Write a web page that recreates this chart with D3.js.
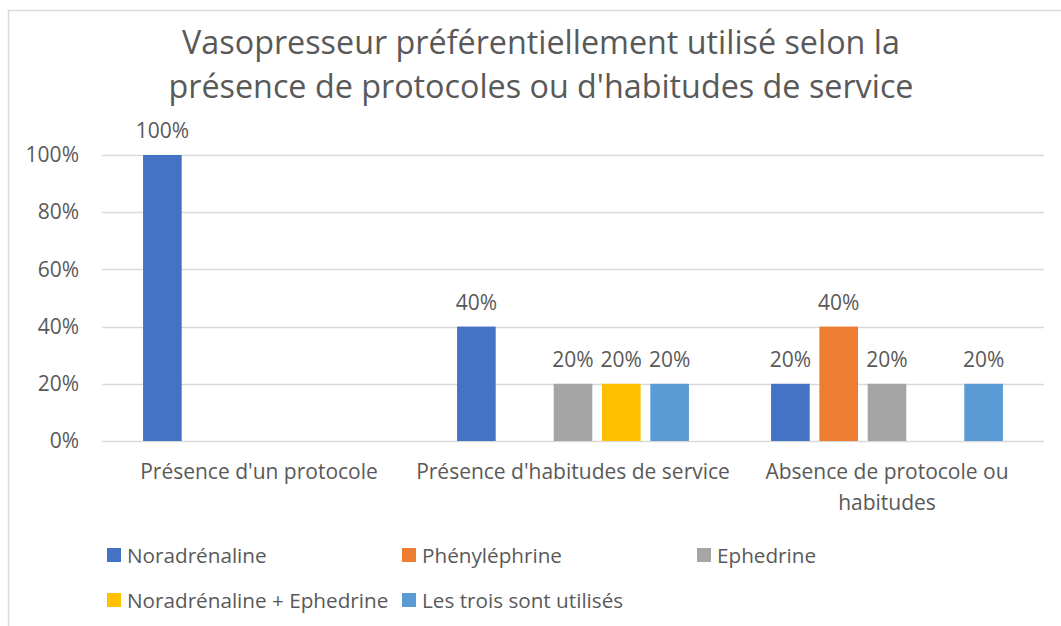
<!DOCTYPE html>
<html>
<head>
<meta charset="utf-8">
<script src="https://cdn.jsdelivr.net/npm/d3@7"></script>
<style>
  body { margin: 0; background: #fff; }
  text { font-family: "Open Sans", "Noto Sans", sans-serif; fill: #595959; }
</style>
</head>
<body>
<svg id="chart"></svg>
<script>
const categories = [["Présence d'un protocole"], ["Présence d'habitudes de service"], ["Absence de protocole ou", "habitudes"]];
const seriesNames = ["Noradrénaline", "Phényléphrine", "Ephedrine", "Noradrénaline + Ephedrine", "Les trois sont utilisés"];
const noradrenaline = [1.0, 0.4, 0.2];
const phenylephrine = [0, 0, 0.4];
const ephedrine = [0, 0.2, 0.2];
const noraEphedrine = [0, 0.2, 0];
const lesTrois = [0, 0.2, 0.2];
const yTicks = [0, 0.2, 0.4, 0.6, 0.8, 1.0];
const colors = ["#4472C4", "#ED7D31", "#A5A5A5", "#FFC000", "#5B9BD5"];

let values = [noradrenaline, phenylephrine, ephedrine, noraEphedrine, lesTrois];

let svgWidth = 1061, svgHeight = 626;
let margin = {top: 155, right: 17, bottom: 185, left: 102};
let chartWidth = svgWidth - margin.left - margin.right;
let chartHeight = svgHeight - margin.top - margin.bottom;

let svg = d3.select("#chart")
    .attr("width", svgWidth)
    .attr("height", svgHeight);

// chart border
svg.append("rect")
    .attr("x", 8.5).attr("y", 10.5)
    .attr("width", 1200).attr("height", 800)
    .attr("fill", "none")
    .attr("stroke", "#D9D9D9")
    .attr("stroke-width", 1.5);

// title
let title = svg.append("text")
    .attr("text-anchor", "middle")
    .style("font-size", "32.3px");
title.append("tspan").attr("x", 541).attr("y", 54).text("Vasopresseur préférentiellement utilisé selon la");
title.append("tspan").attr("x", 541).attr("y", 98).text("présence de protocoles ou d'habitudes de service");

let g = svg.append("g")
    .attr("transform", "translate(" + margin.left + "," + margin.top + ")");

let x0 = d3.scaleBand().domain(d3.range(categories.length)).range([0, chartWidth]);
let x1 = d3.scaleBand().domain(d3.range(seriesNames.length)).range([0, x0.bandwidth()])
    .paddingInner(0.2).paddingOuter(0.85);
let yScale = d3.scaleLinear().domain([0, 1]).range([chartHeight, 0]);

// gridlines
g.selectAll(".grid")
    .data(yTicks)
    .enter().append("line")
    .attr("x1", 0).attr("x2", chartWidth)
    .attr("y1", d => Math.round(yScale(d)) + 0.5)
    .attr("y2", d => Math.round(yScale(d)) + 0.5)
    .attr("stroke", "#D9D9D9")
    .attr("stroke-width", 1.3);

// y axis labels
let yAxis = g.append("g")
    .call(d3.axisLeft(yScale).tickValues(yTicks).tickFormat(d3.format(".0%")).tickSize(0).tickPadding(23));
yAxis.select(".domain").remove();
yAxis.selectAll("text")
    .style("font-size", "21px")
    .style("font-family", "\"Open Sans\", sans-serif")
    .attr("fill", "#595959");

// bars
let groups = g.selectAll(".cat")
    .data(categories.map((c, i) => i))
    .enter().append("g")
    .attr("transform", i => "translate(" + x0(i) + ",0)");

groups.selectAll("rect")
    .data(i => values.map((s, k) => ({k: k, v: s[i]})))
    .enter().append("rect")
    .attr("x", d => x1(d.k))
    .attr("width", x1.bandwidth())
    .attr("y", d => yScale(d.v))
    .attr("height", d => chartHeight - yScale(d.v))
    .attr("fill", d => colors[d.k]);

groups.selectAll(".lbl")
    .data(i => values.map((s, k) => ({k: k, v: s[i]})).filter(d => d.v > 0))
    .enter().append("text")
    .attr("class", "lbl")
    .attr("x", d => x1(d.k) + x1.bandwidth() / 2)
    .attr("y", d => yScale(d.v) - 17)
    .attr("text-anchor", "middle")
    .style("font-size", "21px")
    .text(d => d3.format(".0%")(d.v));

// category labels
let catLabels = g.selectAll(".catlbl")
    .data(categories)
    .enter().append("text")
    .attr("text-anchor", "middle")
    .attr("y", chartHeight + 38)
    .style("font-size", "21px");
catLabels.selectAll("tspan")
    .data((d, i) => d.map((t, j) => ({t: t, j: j, i: i})))
    .enter().append("tspan")
    .attr("x", d => x0(d.i) + x0.bandwidth() / 2)
    .attr("dy", d => d.j === 0 ? 0 : 31)
    .text(d => d.t);

// legend
let legendX = [107, 402, 697];
let legend = svg.selectAll(".legend")
    .data(seriesNames)
    .enter().append("g")
    .attr("transform", (d, i) => "translate(" + legendX[i % 3] + "," + (i < 3 ? 555 : 600) + ")");
legend.append("rect")
    .attr("x", 0).attr("y", -7)
    .attr("width", 14).attr("height", 14)
    .attr("fill", (d, i) => colors[i]);
legend.append("text")
    .attr("x", 20).attr("y", 7.5)
    .style("font-size", "20.7px")
    .text(d => d);
</script>
</body>
</html>
